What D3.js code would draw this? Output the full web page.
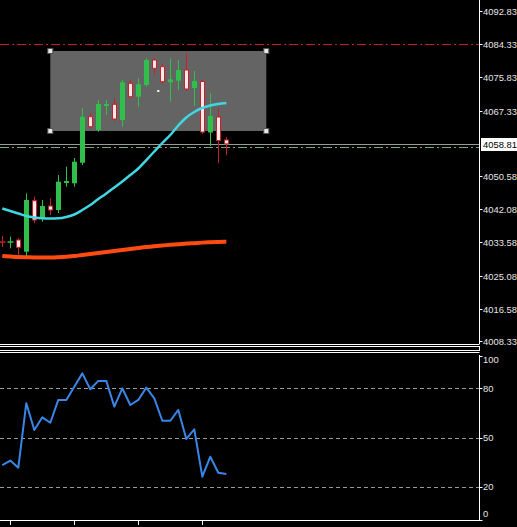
<!DOCTYPE html>
<html><head><meta charset="utf-8">
<script src="https://cdn.jsdelivr.net/npm/d3@7"></script>
<style>html,body{margin:0;padding:0;background:#000;overflow:hidden}svg{display:block}</style>
</head><body>
<script>
// ---------- data ----------
const openP  = [4033.80,4033.55,4034.19,4031.19,4044.25,4039.74,4042.89,4041.87,4048.78,4048.71,4053.98,4065.76,4062.36,4068.50,4068.94,4064.92,4074.31,4070.88,4073.88,4080.28,4078.57,4074.57,4074.98,4077.72,4073.11,4074.78,4061.72,4065.68,4059.80];
const highP  = [4035.21,4035.04,4034.70,4046.15,4045.28,4044.43,4044.87,4050.83,4052.96,4055.19,4067.99,4066.71,4070.04,4070.04,4070.47,4075.16,4075.16,4075.60,4080.79,4080.72,4079.26,4080.72,4080.28,4082.00,4077.47,4075.16,4071.75,4067.91,4060.56];
const lowP   = [4032.39,4032.06,4030.35,4030.09,4038.46,4038.87,4040.59,4041.10,4047.84,4047.84,4053.39,4062.61,4061.92,4066.20,4064.66,4063.20,4070.47,4068.32,4073.45,4076.44,4074.32,4069.60,4072.60,4072.34,4068.50,4061.33,4058.26,4053.91,4055.96];
const closeP = [4033.50,4033.80,4032.32,4044.43,4039.31,4042.89,4041.87,4049.12,4049.30,4054.24,4065.76,4063.20,4069.01,4069.01,4065.17,4074.57,4070.88,4074.06,4080.28,4078.16,4074.73,4075.34,4077.72,4072.86,4074.90,4061.84,4065.94,4059.67,4058.81];
const maFast = [4042.25,4041.61,4040.97,4040.33,4039.95,4039.74,4039.69,4039.74,4040.08,4040.72,4041.87,4043.15,4044.69,4046.10,4047.63,4049.17,4050.83,4052.50,4054.67,4056.85,4059.03,4061.08,4063.51,4065.56,4066.97,4067.99,4068.63,4069.01,4069.27];
const maSlow = [4030.09,4029.96,4029.83,4029.76,4029.71,4029.71,4029.71,4029.78,4029.91,4030.09,4030.35,4030.60,4030.86,4031.11,4031.37,4031.63,4031.88,4032.14,4032.39,4032.60,4032.78,4032.96,4033.11,4033.27,4033.39,4033.52,4033.62,4033.70,4033.75];
const oscValues = [33.2,35.9,31.6,70.9,54.6,62.3,59.0,72.9,72.9,81.0,89.1,79.4,84.5,84.5,68.8,80.0,69.8,72.9,80.4,73.9,60.2,60.2,66.8,49.1,55.0,26.1,38.3,28.5,27.7];
const priceTickLabels = ["4092.83","4084.33","4075.83","4067.33","4050.58","4042.08","4033.58","4025.08","4016.58","4008.33"];
const lastPriceLabel = "4058.81";
const redLevel = 4084.33;
const greenLevel = 4057.93;
const rectPrices = [4082.59, 4062.10];
const rectBars = [6, 33];
const oscLevels = [80, 50, 20];
const oscTickLabels = ["100","80","50","20","0"];
const xTickBars = [1, 9, 17, 25];

// ---------- layout ----------
const W = 517, H = 527;
const axisX = 479.5;
const svg = d3.select("body").append("svg").attr("width", W).attr("height", H)
  .style("font-family", "'Liberation Sans', Arial, sans-serif").style("font-size", "9.4px");
svg.append("rect").attr("width", W).attr("height", H).attr("fill", "#000");

const x = d3.scaleLinear().domain([0, 28]).range([2.3, 226.3]);
const y = d3.scaleLinear().domain([4008.33, 4092.83]).range([341, 11]);
const yo = d3.scaleLinear().domain([0, 100]).range([519.5, 355.5]);

const defs = svg.append("defs");
defs.append("clipPath").attr("id", "mainClip").append("rect").attr("x", 0).attr("y", 0).attr("width", axisX).attr("height", 343);
defs.append("clipPath").attr("id", "oscClip").append("rect").attr("x", 0).attr("y", 354).attr("width", axisX).attr("height", 166);

const main = svg.append("g").attr("clip-path", "url(#mainClip)");

// rectangle object
main.append("rect")
  .attr("x", x(rectBars[0])).attr("y", y(rectPrices[0]))
  .attr("width", x(rectBars[1]) - x(rectBars[0]))
  .attr("height", y(rectPrices[1]) - y(rectPrices[0]))
  .attr("fill", "#646464");

// horizontal levels
main.append("line").attr("x1", 0).attr("x2", axisX).attr("y1", Math.round(y(redLevel)) + 0.5).attr("y2", Math.round(y(redLevel)) + 0.5)
  .attr("stroke", "#c8202a").attr("stroke-width", 1).attr("stroke-dasharray", "9,3,2,3");
main.append("line").attr("x1", 0).attr("x2", axisX).attr("y1", Math.round(y(+lastPriceLabel)) + 0.5).attr("y2", Math.round(y(+lastPriceLabel)) + 0.5)
  .attr("stroke", "#9a9a9a").attr("stroke-width", 1);
main.append("line").attr("x1", 0).attr("x2", axisX).attr("y1", Math.round(y(greenLevel)) + 0.5).attr("y2", Math.round(y(greenLevel)) + 0.5)
  .attr("stroke", "#78a878").attr("stroke-width", 1).attr("stroke-dasharray", "9,3,2,3");

// moving averages
const idx = d3.range(openP.length);
main.append("path").datum(idx)
  .attr("d", d3.line().x(i => x(i)).y(i => y(maSlow[i])).curve(d3.curveMonotoneX))
  .attr("fill", "none").attr("stroke", "#ff4a12").attr("stroke-width", 4);

// candles
const green = "#2fbf4a", red = "#c8202a";
const candles = main.append("g").selectAll("g").data(idx).join("g");
candles.append("line")
  .attr("x1", i => Math.round(x(i)) + 0.5).attr("x2", i => Math.round(x(i)) + 0.5)
  .attr("y1", i => y(highP[i])).attr("y2", i => y(lowP[i]))
  .attr("stroke", i => closeP[i] >= openP[i] ? green : red).attr("stroke-width", 1);
candles.each(function(i) {
  const g = d3.select(this);
  const cx = Math.round(x(i)) + 0.5;
  const top = y(Math.max(openP[i], closeP[i])), bot = y(Math.min(openP[i], closeP[i]));
  const up = closeP[i] >= openP[i];
  if (bot - top < 1.5) {
    g.append("line").attr("x1", cx - 3).attr("x2", cx + 3).attr("y1", (top + bot) / 2).attr("y2", (top + bot) / 2)
      .attr("stroke", up ? green : red).attr("stroke-width", 1.5);
  } else if (up) {
    g.append("rect").attr("x", cx - 2.5).attr("y", top).attr("width", 5).attr("height", bot - top).attr("fill", green);
  } else {
    g.append("rect").attr("x", cx - 2).attr("y", top).attr("width", 4).attr("height", bot - top)
      .attr("fill", "#fbe9e9").attr("stroke", red).attr("stroke-width", 1);
  }
});

main.append("path").datum(idx)
  .attr("d", d3.line().x(i => x(i)).y(i => y(maFast[i])).curve(d3.curveMonotoneX))
  .attr("fill", "none").attr("stroke", "#3fd8e2").attr("stroke-width", 2.5);

// rectangle handles
const rx = [x(rectBars[0]), x(rectBars[1])], ry = [y(rectPrices[0]), y(rectPrices[1])];
const handles = [];
rx.forEach(a => ry.forEach(b => handles.push([a, b])));
main.selectAll("rect.h").data(handles).join("rect").attr("class", "h")
  .attr("x", d => d[0] - 2.5).attr("y", d => d[1] - 2.5).attr("width", 5).attr("height", 5)
  .attr("fill", "#e8e8e8").attr("stroke", "#555").attr("stroke-width", 1);
main.append("rect").attr("x", (rx[0] + rx[1]) / 2 - 1).attr("y", (ry[0] + ry[1]) / 2 - 1).attr("width", 2).attr("height", 2).attr("fill", "#fff");

// price axis
svg.append("line").attr("x1", axisX).attr("x2", axisX).attr("y1", 0).attr("y2", 344).attr("stroke", "#fff");
const pt = svg.append("g");
priceTickLabels.forEach(t => {
  const yy = Math.round(y(+t)) + 0.5;
  pt.append("line").attr("x1", axisX).attr("x2", axisX + 3).attr("y1", yy).attr("y2", yy).attr("stroke", "#fff");
  pt.append("text").attr("x", 483).attr("y", yy).attr("dy", "0.35em").attr("fill", "#e6e6e6").text(t);
});
{
  const yy = Math.round(y(+lastPriceLabel)) + 0.5;
  pt.append("rect").attr("x", 481).attr("y", yy - 6.5).attr("width", 40).attr("height", 13).attr("fill", "#fff");
  pt.append("text").attr("x", 483).attr("y", yy).attr("dy", "0.35em").attr("fill", "#000").text(lastPriceLabel);
}

// panel separators
[344.5, 346.5, 350.5, 352.5].forEach(v => {
  svg.append("line").attr("x1", 0).attr("x2", axisX).attr("y1", v).attr("y2", v).attr("stroke", "#fff");
});
svg.append("line").attr("x1", axisX).attr("x2", axisX).attr("y1", 346).attr("y2", 351).attr("stroke", "#fff");

// oscillator panel
const osc = svg.append("g");
svg.append("line").attr("x1", axisX).attr("x2", axisX).attr("y1", 355).attr("y2", 521).attr("stroke", "#fff");
svg.append("line").attr("x1", 0).attr("x2", axisX).attr("y1", 520.5).attr("y2", 520.5).attr("stroke", "#fff");
oscLevels.forEach(v => {
  const yy = Math.round(yo(v)) + 0.5;
  osc.append("line").attr("x1", 0).attr("x2", axisX).attr("y1", yy).attr("y2", yy)
    .attr("stroke", "#9a9a9a").attr("stroke-dasharray", "4,3");
});
oscTickLabels.forEach(t => {
  const v = +t;
  const yy = Math.min(514, Math.max(360, yo(v)));
  osc.append("line").attr("x1", axisX).attr("x2", axisX + 3).attr("y1", Math.round(yo(v)) + 0.5).attr("y2", Math.round(yo(v)) + 0.5).attr("stroke", "#fff");
  osc.append("text").attr("x", 483).attr("y", yy).attr("dy", "0.35em").attr("fill", "#e6e6e6").text(t);
});
svg.append("g").attr("clip-path", "url(#oscClip)").append("path").datum(idx)
  .attr("d", d3.line().x(i => x(i)).y(i => yo(oscValues[i])))
  .attr("fill", "none").attr("stroke", "#3a86e8").attr("stroke-width", 2).attr("stroke-linejoin", "round");

// time axis ticks
xTickBars.forEach(b => {
  const xx = Math.round(x(b)) + 0.5;
  svg.append("line").attr("x1", xx).attr("x2", xx).attr("y1", 521).attr("y2", 525).attr("stroke", "#fff");
});
</script>
</body></html>
